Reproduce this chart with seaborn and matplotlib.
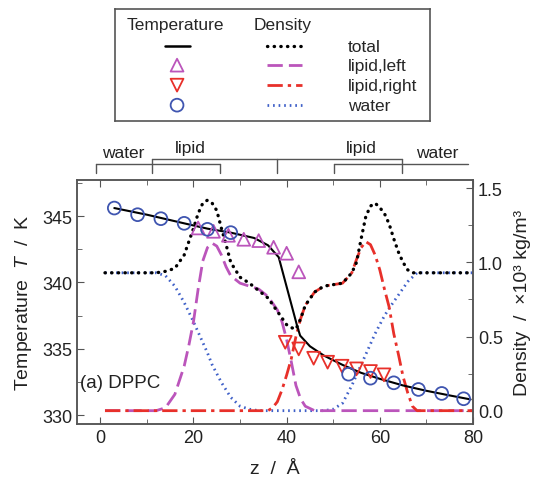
import numpy as np
import pandas as pd
import matplotlib
matplotlib.use("Agg")
import matplotlib.pyplot as plt
import seaborn as sns
from matplotlib.ticker import MultipleLocator

# --- temperature profile (left axis) ---
z_T = [3, 10, 18, 23, 28, 33, 36, 38.3, 42.2, 42.9, 45, 48, 52, 56, 60, 65, 70, 75, 79.5]
T_total = [345.6, 345.1, 344.45, 344.05, 343.75, 343.35, 342.8, 341.9, 336.8, 336.0,
           335.2, 334.5, 333.8, 333.2, 332.75, 332.25, 331.85, 331.5, 331.2]

z_water_T = [3, 8, 13, 18, 23, 28, 53.3, 58, 63, 68.3, 73.3, 78]
T_water = [345.6, 345.1, 344.8, 344.45, 344.0, 343.75, 333.1, 332.8, 332.45, 331.95, 331.65, 331.25]

z_left_T = [21, 24.3, 27.5, 30.8, 34, 37.2, 40, 42.6]
T_left = [344.1, 343.85, 343.55, 343.25, 343.15, 342.65, 342.2, 340.8]

z_right_T = [39.7, 42.6, 45.8, 48.8, 51.9, 55.0, 58.0, 60.9]
T_right = [335.5, 335.0, 334.3, 334.0, 333.7, 333.5, 333.3, 333.05]

# --- density profiles (right axis) ---
z_tot = [1, 12, 14, 16, 18, 20, 21, 22, 23, 24, 25, 26, 27, 28, 30, 32, 34, 36, 38, 40, 41,
         42, 43, 44, 46, 48, 50, 52, 54, 55, 56, 57, 58, 59, 60, 61, 62, 63, 64, 65, 66, 67, 80]
d_tot = [0.93, 0.93, 0.94, 0.96, 1.05, 1.23, 1.33, 1.40, 1.42, 1.40, 1.35, 1.23, 1.12, 1.00,
         0.90, 0.86, 0.81, 0.76, 0.67, 0.58, 0.56, 0.55, 0.62, 0.71, 0.80, 0.84, 0.85, 0.86,
         0.93, 1.00, 1.16, 1.31, 1.38, 1.40, 1.37, 1.33, 1.26, 1.16, 1.07, 1.00, 0.95, 0.93, 0.93]

z_ll = [1, 12, 14, 16, 18, 19, 20, 21, 22, 23, 24, 25, 26, 27, 28, 30, 32, 34, 36, 38, 39,
        40, 41, 42, 43, 44, 46, 80]
d_ll = [0.0, 0.0, 0.02, 0.11, 0.30, 0.44, 0.60, 0.82, 1.01, 1.10, 1.13, 1.11, 1.05, 0.97,
        0.91, 0.86, 0.84, 0.82, 0.77, 0.68, 0.60, 0.48, 0.33, 0.17, 0.08, 0.03, 0.0, 0.0]

z_lr = [1, 36, 37, 38, 39, 40, 41, 42, 43, 44, 46, 48, 50, 52, 54, 55, 56, 57, 58, 59, 60,
        61, 62, 63, 64, 65, 66, 67, 68, 80]
d_lr = [0.0, 0.0, 0.02, 0.06, 0.14, 0.24, 0.35, 0.50, 0.62, 0.71, 0.80, 0.84, 0.85, 0.86,
        0.93, 1.02, 1.10, 1.14, 1.12, 1.05, 0.95, 0.82, 0.70, 0.52, 0.38, 0.23, 0.12, 0.03, 0.0, 0.0]

z_w = [1, 12, 14, 16, 18, 20, 21, 22, 23, 24, 25, 26, 28, 30, 32, 34, 48, 50, 52, 54, 55,
       56, 57, 58, 59, 60, 61, 62, 64, 66, 68, 80]
d_w = [0.93, 0.93, 0.91, 0.84, 0.73, 0.60, 0.53, 0.46, 0.39, 0.31, 0.25, 0.19, 0.09, 0.03,
       0.01, 0.0, 0.0, 0.01, 0.05, 0.17, 0.24, 0.31, 0.38, 0.45, 0.52, 0.58, 0.64, 0.69,
       0.78, 0.87, 0.93, 0.93]

# region brackets above the plot
region_edges = [-1, 11, 25.6, 38, 50.2, 64.7, 79]
region_names = ["water", "lipid", "lipid", "water"]

C_BLACK = "black"
C_MAG = "#bb55bb"
C_RED = "#e8302a"
C_BLUE = "#3f55b0"
C_BLUE_L = "#3f60c8"

sns.set_style("ticks")
plt.rcParams["font.family"] = ["Liberation Sans", "DejaVu Sans"]
plt.rcParams["mathtext.fontset"] = "custom"
plt.rcParams["mathtext.it"] = "Liberation Sans:italic"
plt.rcParams["mathtext.rm"] = "Liberation Sans"

fig = plt.figure(figsize=(5.35, 4.81), dpi=100)
ax = fig.add_axes([0.144, 0.1164, 0.740, 0.507])
ax2 = ax.twinx()
ax.set_zorder(ax2.get_zorder() + 1)
ax.patch.set_visible(False)

# density curves
DOT_TOT = (0, (0.1, 1.9))
DASH_LL = (0, (5.5, 2.2))
DASHDOT_LR = (0, (5.5, 1.8, 1.2, 1.8))
DOT_W = (0, (0.6, 1.4))
sns.lineplot(x=z_w, y=d_w, ax=ax2, color=C_BLUE_L, lw=2.0, linestyle=DOT_W, errorbar=None, sort=False)
sns.lineplot(x=z_ll, y=d_ll, ax=ax2, color=C_MAG, lw=2.0, linestyle=DASH_LL, errorbar=None, sort=False)
sns.lineplot(x=z_lr, y=d_lr, ax=ax2, color=C_RED, lw=2.0, linestyle=DASHDOT_LR, errorbar=None, sort=False)
sns.lineplot(x=z_tot, y=d_tot, ax=ax2, color=C_BLACK, lw=2.4, linestyle=DOT_TOT, errorbar=None,
             sort=False, dash_capstyle="round")

# temperature
sns.lineplot(x=z_T, y=T_total, ax=ax, color=C_BLACK, lw=1.5, errorbar=None, sort=False, zorder=4)
mk = dict(facecolor="none", s=85, linewidth=1.3, zorder=5)
sns.scatterplot(x=z_left_T, y=T_left, ax=ax, marker="^", edgecolor=C_MAG, **mk)
sns.scatterplot(x=z_right_T, y=T_right, ax=ax, marker="v", edgecolor=C_RED, **mk)
sns.scatterplot(x=z_water_T, y=T_water, ax=ax, marker="o", edgecolor=C_BLUE, **mk)

# axes
ax.set_xlim(-5, 80)
ax.set_ylim(329.35, 347.7)
ax2.set_ylim(-0.09, 1.555)
ax.xaxis.set_major_locator(MultipleLocator(20))
ax.xaxis.set_minor_locator(MultipleLocator(10))
ax.yaxis.set_major_locator(MultipleLocator(5))
ax.yaxis.set_minor_locator(MultipleLocator(2.5))
ax2.yaxis.set_major_locator(MultipleLocator(0.5))
ax2.yaxis.set_minor_locator(MultipleLocator(0.25))
ax2.yaxis.set_major_formatter(matplotlib.ticker.FormatStrFormatter("%.1f"))

spine_c = "#555555"
for a in (ax, ax2):
    for s in a.spines.values():
        s.set_color(spine_c)
        s.set_linewidth(1.1)
ax.tick_params(which="both", direction="in", top=True, colors=spine_c, labelcolor="#222222", labelsize=13)
ax.tick_params(which="major", length=5)
ax.tick_params(which="minor", length=3.5)
ax2.tick_params(which="both", direction="in", colors=spine_c, labelcolor="#222222", labelsize=13)
ax2.tick_params(which="major", length=5)
ax2.tick_params(which="minor", length=3.5)

ax.set_xlabel("z  /  Å", fontsize=14, color="#222222", labelpad=10)
ax.set_ylabel(r"Temperature  $T$  /  K", fontsize=14, color="#222222", labelpad=6)
ax2.set_ylabel("Density  /  ×10³ kg/m³", fontsize=14, color="#222222", labelpad=8)
ax2.set_xlabel("")

ax.text(-4.3, 332.5, "(a) DPPC", fontsize=13.5, color="#222222", va="center", ha="left")

# brackets above the plot
tr = ax.get_xaxis_transform()
e = region_edges
lw_b = 1.0
bc = "#555555"
y_hi, y_lo, y_tk = 1.086, 1.068, 1.031
ax.plot([e[0], e[1]], [y_lo, y_lo], transform=tr, clip_on=False, color=bc, lw=lw_b)
ax.plot([e[1], e[5]], [y_hi, y_hi], transform=tr, clip_on=False, color=bc, lw=lw_b)
ax.plot([e[1], e[2]], [y_lo, y_lo], transform=tr, clip_on=False, color=bc, lw=lw_b)
ax.plot([e[4], e[5]], [y_lo, y_lo], transform=tr, clip_on=False, color=bc, lw=lw_b)
ax.plot([e[5], e[6]], [y_lo, y_lo], transform=tr, clip_on=False, color=bc, lw=lw_b)
for x0, top in [(e[0], y_lo), (e[1], y_hi), (e[2], y_lo), (e[3], y_hi), (e[4], y_lo), (e[5], y_hi)]:
    ax.plot([x0, x0], [y_tk, top], transform=tr, clip_on=False, color=bc, lw=lw_b)
name_x = [(e[0] + e[1]) / 2, (e[1] + e[2]) / 2 + 1, (e[4] + e[5]) / 2 - 1.5, (e[5] + e[6]) / 2 + 0.5]
name_y = [1.115, 1.135, 1.135, 1.115]
for nx, ny, nm in zip(name_x, name_y, region_names):
    ax.text(nx, ny, nm, transform=tr, ha="center", va="center", fontsize=12.5, color="#222222")

# legend box drawn by hand
lax = fig.add_axes([0.215, 0.746, 0.589, 0.233])
lax.set_xlim(0, 315)
lax.set_ylim(112, 0)
lax.set_xticks([])
lax.set_yticks([])
for s in lax.spines.values():
    s.set_color("#555555")
    s.set_linewidth(1.2)
lax.text(60, 15, "Temperature", ha="center", va="center", fontsize=12.5)
lax.text(168, 15, "Density", ha="center", va="center", fontsize=12.5)
rows_y = [37, 56, 76, 96]
row_labels = ["total", "lipid,left", "lipid,right", "water"]
lax.plot([50, 75], [rows_y[0]] * 2, color=C_BLACK, lw=1.8)
lax.scatter([62], [rows_y[1]], marker="^", facecolor="none", edgecolor=C_MAG, s=85, linewidth=1.3)
lax.scatter([62], [rows_y[2]], marker="v", facecolor="none", edgecolor=C_RED, s=85, linewidth=1.3)
lax.scatter([62], [rows_y[3]], marker="o", facecolor="none", edgecolor=C_BLUE, s=85, linewidth=1.3)
lax.plot([152, 187], [rows_y[0]] * 2, color=C_BLACK, lw=2.4, linestyle=DOT_TOT, dash_capstyle="round")
lax.plot([152, 187], [rows_y[1]] * 2, color=C_MAG, lw=2.0, linestyle=DASH_LL)
lax.plot([152, 187], [rows_y[2]] * 2, color=C_RED, lw=2.0, linestyle=DASHDOT_LR)
lax.plot([152, 187], [rows_y[3]] * 2, color=C_BLUE_L, lw=2.0, linestyle=DOT_W)
for ry, lb in zip(rows_y, row_labels):
    lax.text(233, ry, lb, ha="left", va="center", fontsize=12.5)

fig.savefig("out.png", dpi=100)
